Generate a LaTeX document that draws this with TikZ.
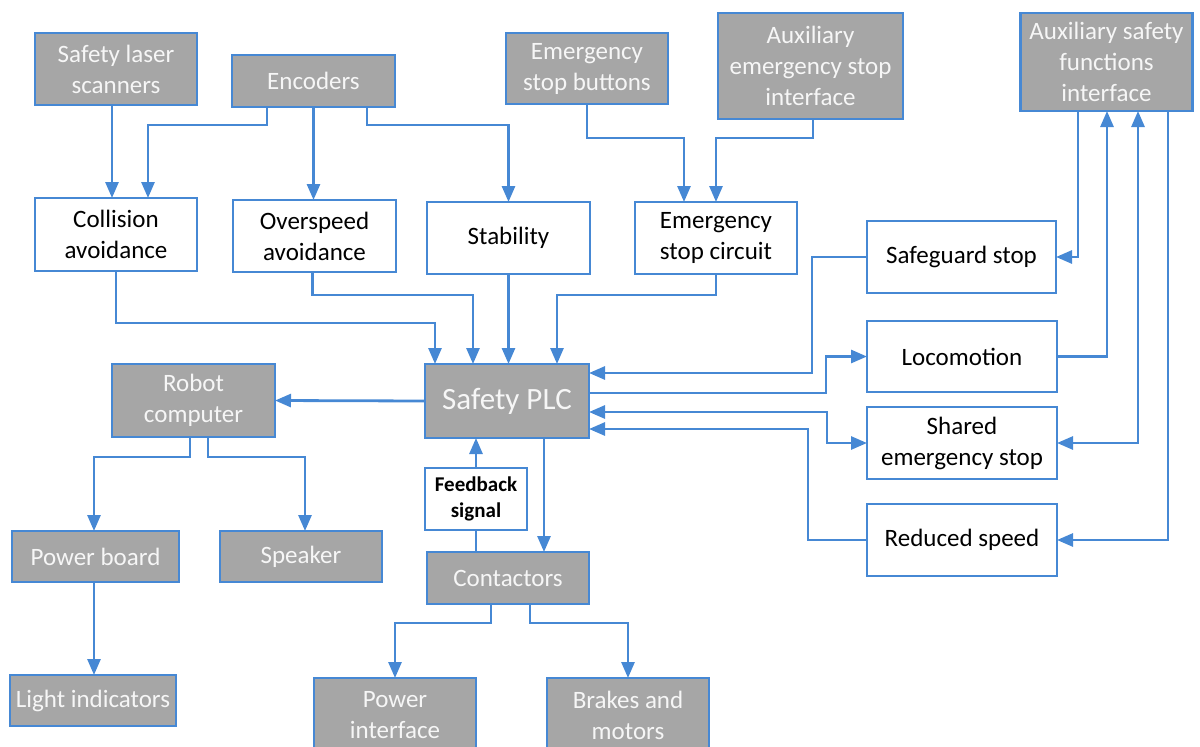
\documentclass[tikz,border=0pt]{standalone}
\usepackage{fontspec}
\setmainfont{Carlito}
\usetikzlibrary{arrows.meta}
\definecolor{lineblue}{RGB}{70,136,212}
\definecolor{boxgray}{RGB}{166,166,166}
\definecolor{txtwhite}{RGB}{246,246,246}
\begin{document}
\begin{tikzpicture}[x=1pt,y=-1pt,
 box/.style={rectangle, draw=lineblue, line width=2.5pt, inner sep=0pt, outer sep=0pt, align=center, font=\fontsize{25}{31}\selectfont},
 gbox/.style={box, fill=boxgray, text=txtwhite},
 wbox/.style={box, fill=white, text=black},
 arr/.style={draw=lineblue, line width=2.8pt, -{Triangle[length=16pt,width=13pt]}},
 conn/.style={draw=lineblue, line width=2.8pt},
 biarr/.style={draw=lineblue, line width=2.8pt, {Triangle[length=16pt,width=13pt]}-{Triangle[length=16pt,width=13pt]}}]
\useasboundingbox (0,0) rectangle (1200,747);
\clip (0,0) rectangle (1200,747);

% top sources
\node[gbox, minimum width=162pt, minimum height=72pt] (scan) at (116,69) {Safety laser\\scanners};
\node[gbox, minimum width=163pt, minimum height=52pt] (enc) at (313.5,81) {Encoders};
\node[gbox, minimum width=162pt, minimum height=71pt] (esb) at (587,68.5) {Emergency\\stop buttons};
\node[gbox, minimum width=185pt, minimum height=106pt] (aesi) at (810.5,66) {Auxiliary\\emergency stop\\interface};
\node[gbox, minimum width=172pt, minimum height=98pt] (asfi) at (1106.5,62) {Auxiliary safety\\functions\\interface};

% functions
\node[wbox, minimum width=162pt, minimum height=73pt] (col) at (116,234.5) {Collision\\avoidance};
\node[wbox, minimum width=163pt, minimum height=72pt] (ovs) at (314.5,236) {Overspeed\\avoidance};
\node[wbox, minimum width=163pt, minimum height=72pt] (stab) at (508.5,238) {Stability};
\node[wbox, minimum width=162pt, minimum height=72pt] (esc) at (716,238) {Emergency\\stop circuit};
\node[wbox, minimum width=189pt, minimum height=72pt] (sgs) at (961.5,257) {Safeguard stop};
\node[wbox, minimum width=190pt, minimum height=71pt] (loc) at (962,356.5) {Locomotion};
\node[wbox, minimum width=190pt, minimum height=72pt] (ses) at (962,443) {Shared\\emergency stop};
\node[wbox, minimum width=190pt, minimum height=72pt] (rsp) at (962,540) {Reduced speed};

% center
\node[gbox, minimum width=164pt, minimum height=74pt, font=\fontsize{31}{37}\selectfont] (plc) at (507,401) {Safety PLC};
\node[gbox, minimum width=163pt, minimum height=73pt] (rc) at (193.5,400.5) {Robot\\computer};
\node[wbox, minimum width=102pt, minimum height=62pt, font=\fontsize{21}{26}\selectfont\bfseries] (fb) at (476,499) {Feedback\\signal};
\node[gbox, minimum width=162pt, minimum height=52pt] (con) at (508,578) {Contactors};

% bottom
\node[gbox, minimum width=167pt, minimum height=51pt] (pb) at (95.5,556.5) {Power board};
\node[gbox, minimum width=162pt, minimum height=51pt] (spk) at (301,556.5) {Speaker};
\node[gbox, minimum width=166pt, minimum height=51pt] (li) at (93,700.5) {Light indicators};
\node[gbox, minimum width=162pt, minimum height=74pt] (pi) at (395,715) {Power\\interface};
\node[gbox, minimum width=162pt, minimum height=74pt] (bm) at (628,715) {Brakes and\\motors};

% connectors: top
\draw[arr] ([xshift=-4pt]scan.south) -- ([xshift=-4pt]col.north);
\draw[arr] ([xshift=-46.5pt]enc.south) -- ++(0,18) -| ([xshift=32pt]col.north);
\draw[arr] (enc.south) -- (enc.south |- ovs.north);
\draw[arr] ([xshift=53.5pt]enc.south) -- ++(0,18) -| (stab.north);
\draw[arr] (esb.south) -- ++(0,34) -| ([xshift=-32pt]esc.north);
\draw[arr] ([xshift=2.5pt]aesi.south) -- ++(0,19) -| (esc.north);

% into PLC from top
\draw[arr] (col.south) -- ++(0,52) -| ([xshift=-72pt]plc.north);
\draw[arr] ([xshift=-2pt]ovs.south) -- ++(0,23) -| ([xshift=-34pt]plc.north);
\draw[arr] (stab.south) -- (stab.south |- plc.north);
\draw[arr] (esc.south) -- ++(0,21) -| ([xshift=50pt]plc.north);

% right side
\draw[arr] (sgs.west) -- ++(-55,0) |- ([yshift=28pt]plc.east);
\draw[arr] ([yshift=8pt]plc.east) -| ([xshift=-41pt]loc.west) -- (loc.west);
\draw[biarr] ([yshift=-11pt]plc.east) -| ([xshift=-40pt]ses.west) -- (ses.west);
\draw[arr] (rsp.west) -- ++(-59,0) |- ([yshift=-28pt]plc.east);

\draw[arr] ([xshift=-28.5pt]asfi.south) |- (sgs.east);
\draw[arr] (loc.east) -| ([xshift=0.5pt]asfi.south);
\draw[biarr] (ses.east) -| ([xshift=31.5pt]asfi.south);
\draw[arr] ([xshift=61.5pt]asfi.south) |- (rsp.east);

% left side
\draw[arr] (plc.west) -- (rc.east);
\draw[arr] ([xshift=-3.5pt]rc.south) -- ++(0,20) -| ([xshift=-1.5pt]pb.north);
\draw[arr] ([xshift=14.5pt]rc.south) -- ++(0,20) -| ([xshift=4pt]spk.north);
\draw[arr] ([xshift=-1.5pt]pb.south) -- ([xshift=-1.5pt]pb.south |- li.north);

% bottom center
\draw[arr] ([xshift=37pt]plc.south) -- ([xshift=37pt]plc.south |- con.north);
\draw[conn] (fb.south) -- (fb.south |- con.north);
\draw[arr] (fb.north) -- (fb.north |- plc.south);
\draw[arr] ([xshift=-17pt]con.south) -- ++(0,19) -| (pi.north);
\draw[arr] ([xshift=22pt]con.south) -- ++(0,19) -| (bm.north);
\end{tikzpicture}
\end{document}
